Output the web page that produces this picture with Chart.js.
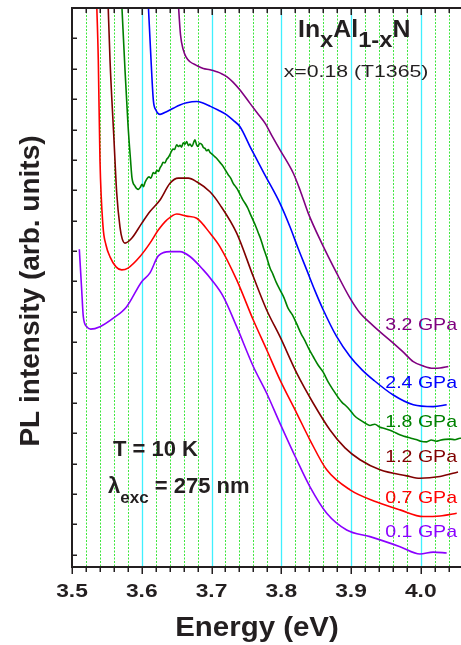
<!DOCTYPE html>
<html>
<head>
<meta charset="utf-8">
<title>InAlN PL spectra</title>
<script src="https://cdn.jsdelivr.net/npm/chart.js@4.4.1/dist/chart.umd.min.js"></script>
<style>
  html, body { margin: 0; padding: 0; background: #fff; }
  canvas { display: block; }
</style>
</head>
<body>
<canvas id="plChart" width="461" height="645"></canvas>
<script>
// pressure labels, low -> high
const pressures = ['0.1 GPa', '0.7 GPa', '1.2 GPa', '1.8 GPa', '2.4 GPa', '3.2 GPa'];

// energy (eV) / intensity (arb., offset)
const e01 = [3.5105,3.5139,3.5162,3.5211,3.5268,3.5401,3.5592,3.5784,3.5999,3.6118,3.6237,3.6405,3.6548,3.6691,3.6882,3.7003,3.7169,3.7361,3.7599,3.7791,3.7982,3.8222,3.8412,3.8652,3.8938,3.9272,3.9703,3.9989,4.0180,4.0372];
const i01 = [10.06,8.72,7.84,7.51,7.43,7.51,7.79,8.17,8.99,9.28,9.84,9.98,9.98,9.82,9.38,9.05,8.50,7.51,6.20,5.32,4.33,3.13,2.24,1.37,0.82,0.60,0.27,0.03,0.09,0.06];

const e07 = [3.5352,3.5377,3.5401,3.5444,3.5487,3.5545,3.5631,3.5713,3.5803,3.5975,3.6118,3.6237,3.6358,3.6501,3.6644,3.6788,3.6978,3.7122,3.7361,3.7599,3.7791,3.7982,3.8222,3.8412,3.8652,3.8986,3.9369,3.9703,4.0037,4.0276,4.0516];
const i07 = [18.3,16.29,13.0,10.83,10.20,9.81,9.48,9.38,9.44,9.82,10.26,10.69,11.02,11.22,11.15,11.08,10.59,10.14,9.05,7.73,6.75,5.76,4.66,3.78,2.80,2.14,1.74,1.48,1.26,1.28,1.37];

const e12 = [3.5515,3.5545,3.5602,3.5641,3.5688,3.5720,3.5760,3.5856,3.5999,3.6118,3.6262,3.6405,3.6524,3.6667,3.6788,3.6978,3.7122,3.7361,3.7599,3.7791,3.7982,3.8222,3.8459,3.8699,3.8914,3.9129,3.9416,3.9799,3.9989,4.0276,4.0534];
const i12 = [18.3,16.29,13.66,11.91,10.79,10.40,10.26,10.42,10.91,11.30,11.68,12.23,12.40,12.40,12.28,11.95,11.52,10.59,9.16,8.06,7.18,5.98,4.99,4.11,3.52,3.13,2.80,2.60,2.52,2.58,2.73];

const e18 = [3.5710,3.5760,3.5803,3.5839,3.5860,3.5903,3.5951,3.5980,3.6004,3.6025,3.6047,3.6075,3.6104,3.6130,3.6166,3.6190,3.6219,3.6240,3.6262,3.6285,3.6305,3.6330,3.6358,3.6380,3.6405,3.6425,3.6448,3.6470,3.6501,3.6525,3.6548,3.6570,3.6595,3.6620,3.6645,3.6669,3.6692,3.6720,3.6745,3.6763,3.6785,3.6806,3.6830,3.6864,3.6885,3.6907,3.6930,3.6955,3.6980,3.7003,3.7040,3.7079,3.7120,3.7169,3.7200,3.7237,3.7275,3.7313,3.7345,3.7380,3.7420,3.7456,3.7490,3.7523,3.7560,3.7599,3.7630,3.7667,3.7705,3.7743,3.7790,3.7839,3.7880,3.7930,3.7982,3.8040,3.8097,3.8160,3.8222,3.8280,3.8341,3.8400,3.8459,3.8530,3.8599,3.8670,3.8746,3.8810,3.8871,3.8930,3.8986,3.9050,3.9129,3.9200,3.9272,3.9340,3.9416,3.9480,3.9559,3.9620,3.9674,3.9740,3.9799,3.9860,3.9932,4.0000,4.0085,4.0150,4.0220,4.0276,4.0350,4.0419,4.0490,4.0563,4.0600];
const i18 = [18.3,15.96,14.15,13.0,12.41,12.14,12.03,12.10,12.20,12.12,12.26,12.38,12.44,12.40,12.58,12.55,12.66,12.62,12.74,12.82,12.92,12.90,13.02,13.08,13.18,13.28,13.36,13.34,13.50,13.44,13.48,13.42,13.56,13.52,13.60,13.47,13.52,13.44,13.58,13.66,13.50,13.44,13.55,13.50,13.40,13.38,13.30,13.34,13.24,13.20,13.12,13.04,12.92,12.78,12.66,12.52,12.40,12.22,12.12,12.00,11.82,11.66,11.54,11.40,11.20,11.00,10.84,10.62,10.40,10.12,9.80,9.44,9.24,8.96,8.72,8.46,8.12,7.90,7.60,7.30,7.04,6.76,6.52,6.24,6.02,5.70,5.42,5.20,5.02,4.90,4.76,4.58,4.44,4.34,4.26,4.30,4.20,4.16,4.10,4.04,3.98,3.92,3.88,3.84,3.80,3.74,3.72,3.78,3.74,3.77,3.80,3.81,3.79,3.84,3.83];

const e24 = [3.6090,3.6133,3.6166,3.6204,3.6262,3.6348,3.6452,3.6548,3.6644,3.6788,3.6878,3.6978,3.7093,3.7218,3.7308,3.7409,3.7552,3.7652,3.7767,3.7982,3.8125,3.8240,3.8365,3.8484,3.8603,3.8795,3.8986,3.9158,3.9320,3.9606,3.9893,4.0180,4.0372];
const i24 = [18.3,16.29,14.97,14.64,14.50,14.58,14.70,14.81,14.88,14.92,14.87,14.77,14.64,14.48,14.31,14.09,13.44,13.0,12.50,11.57,10.80,10.10,9.38,8.69,8.06,7.18,6.53,6.09,5.76,5.26,4.94,4.88,4.94];

const e32 = [3.6520,3.6556,3.6596,3.6634,3.6692,3.6778,3.6882,3.6978,3.7075,3.7151,3.7218,3.7308,3.7409,3.7552,3.7667,3.7767,3.7867,3.7982,3.8173,3.8269,3.8388,3.8580,3.8795,3.8986,3.9129,3.9258,3.9416,3.9606,3.9746,3.9893,4.0032,4.0180,4.0276,4.0395];
const i32 = [18.3,17.11,16.62,16.39,16.23,16.12,16.01,15.97,15.90,15.83,15.74,15.56,15.30,14.86,14.51,14.21,13.79,13.33,12.56,12.01,11.24,10.26,9.27,8.45,7.96,7.67,7.34,6.97,6.68,6.36,6.22,6.14,6.15,6.20];

// axis ticks
const xMajorTicks = [3.5, 3.6, 3.7, 3.8, 3.9, 4.0];
const xTickLabels = ['3.5', '3.6', '3.7', '3.8', '3.9', '4.0'];
const yTicks = [0,1,2,3,4,5,6,7,8,9,10,11,12,13,14,15,16,17];

const lineColors = ['#8a00ff', '#ff0000', '#800000', '#008000', '#0000ff', '#800080'];
const FONT = "'Liberation Sans', Arial, Helvetica, sans-serif";
const INK = '#231f20';

// minor tick every 0.02 eV
const xMinorTicks = [];
for (let k = 0; k <= 27; k++) xMinorTicks.push(+(3.5 + k * 0.02).toFixed(2));

const seriesX = [e01, e07, e12, e18, e24, e32];
const seriesY = [i01, i07, i12, i18, i24, i32];

function isMajor(v) {
    return Math.abs(v * 10 - Math.round(v * 10)) < 1e-6;
}

function drawText(ctx, txt, x, y, font, color, align, sx) {
    ctx.save();
    ctx.font = font;
    ctx.fillStyle = color;
    ctx.textAlign = align;
    ctx.textBaseline = 'alphabetic';
    ctx.translate(x, y);
    ctx.scale(sx, 1);
    ctx.fillText(txt, 0, 0);
    ctx.restore();
}

// draws pieces left to right: [text, font, dy]
function drawRuns(ctx, runs, x, y, color, sx) {
    let cx = x;
    runs.forEach(r => {
        ctx.save();
        ctx.font = r[1];
        const w = ctx.measureText(r[0]).width * sx;
        ctx.restore();
        drawText(ctx, r[0], cx, y + r[2], r[1], color, 'left', sx);
        cx += w;
    });
}

const framePlugin = {
    id: 'frame',
    beforeDatasetsDraw(chart) {
        const { ctx, chartArea: a, scales: { x } } = chart;
        ctx.save();
        xMinorTicks.forEach(v => {
            if (v <= 3.5) return;
            const px = Math.round(x.getPixelForValue(v)) + 0.5;
            ctx.beginPath();
            if (isMajor(v)) {
                ctx.strokeStyle = '#3ff0ff';
                ctx.lineWidth = 1.3;
                ctx.setLineDash([]);
            } else {
                ctx.strokeStyle = '#3ee63e';
                ctx.lineWidth = 1;
                ctx.setLineDash([2, 1.5]);
            }
            ctx.moveTo(px, a.top);
            ctx.lineTo(px, a.bottom);
            ctx.stroke();
        });
        ctx.restore();
    },
    afterDatasetsDraw(chart) {
        const { ctx, chartArea: a, scales: { x, y } } = chart;
        ctx.save();
        ctx.strokeStyle = INK;
        ctx.setLineDash([]);

        // axis lines
        ctx.lineWidth = 2;
        ctx.beginPath();
        ctx.moveTo(a.left, a.top); ctx.lineTo(a.right, a.top);
        ctx.moveTo(a.left, a.top - 1); ctx.lineTo(a.left, a.bottom + 1);
        ctx.moveTo(a.left - 1, a.bottom); ctx.lineTo(a.right, a.bottom);
        ctx.stroke();

        // x ticks: bottom outward, top inward
        ctx.lineWidth = 1.5;
        ctx.beginPath();
        xMinorTicks.forEach(v => {
            const px = Math.round(x.getPixelForValue(v)) + 0.25;
            const len = isMajor(v) ? 7 : 5;
            ctx.moveTo(px, a.bottom); ctx.lineTo(px, a.bottom + len);
            ctx.moveTo(px, a.top); ctx.lineTo(px, a.top + len);
        });
        // y ticks inward
        yTicks.forEach(v => {
            const py = Math.round(y.getPixelForValue(v)) + 0.25;
            ctx.moveTo(a.left, py); ctx.lineTo(a.left + 5, py);
        });
        ctx.stroke();
        ctx.restore();

        // tick labels
        xMajorTicks.forEach((v, i) => {
            drawText(ctx, xTickLabels[i], x.getPixelForValue(v), 597, `bold 19px ${FONT}`, INK, 'center', 1.2);
        });

        // axis titles
        drawText(ctx, 'Energy (eV)', 257, 636, `bold 27px ${FONT}`, INK, 'center', 1.09);
        ctx.save();
        ctx.translate(38.5, 291);
        ctx.rotate(-Math.PI / 2);
        drawText(ctx, 'PL intensity (arb. units)', 0, 0, `bold 28px ${FONT}`, INK, 'center', 1.0);
        ctx.restore();

        // sample label
        const big = `bold 23px ${FONT}`;
        const sub = `bold 22px ${FONT}`;
        drawRuns(ctx, [['In', big, 0], ['x', sub, 10], ['Al', big, 0], ['1-x', sub, 10], ['N', big, 0]], 298, 37, INK, 1.08);
        drawText(ctx, 'x=0.18 (T1365)', 356, 77, `17px ${FONT}`, INK, 'center', 1.25);

        // conditions
        drawText(ctx, 'T = 10 K', 113, 456, `bold 22px ${FONT}`, INK, 'left', 1.0);
        drawRuns(ctx, [['\u03bb', `bold 22px ${FONT}`, 0], ['exc', `bold 17px ${FONT}`, 10], [' = 275 nm', `bold 22px ${FONT}`, 0]], 108, 493, INK, 1.0);

        // pressure labels, right aligned
        const baselines = [537, 503, 462, 427, 388, 330];
        pressures.forEach((p, i) => {
            drawText(ctx, p, 457, baselines[i], `17px ${FONT}`, lineColors[i], 'right', 1.15);
        });
    }
};

new Chart(document.getElementById('plChart'), {
    type: 'line',
    data: {
        datasets: pressures.map((p, i) => ({
            label: p,
            data: seriesX[i].map((e, k) => ({ x: e, y: seriesY[i][k] })),
            borderColor: lineColors[i],
            borderWidth: 1.6,
            pointRadius: 0,
            fill: false,
            cubicInterpolationMode: 'monotone'
        }))
    },
    options: {
        responsive: false,
        animation: false,
        devicePixelRatio: 1,
        layout: { padding: { top: 8, right: 0, left: 0, bottom: 0 } },
        plugins: { legend: { display: false }, tooltip: { enabled: false } },
        scales: {
            x: {
                type: 'linear',
                min: 3.5,
                max: 4.0577,
                grid: { display: false },
                border: { display: false },
                ticks: { display: false },
                afterFit: s => { s.height = 78; }
            },
            y: {
                type: 'linear',
                min: -0.4,
                max: 18,
                grid: { display: false },
                border: { display: false },
                ticks: { display: false },
                afterFit: s => { s.width = 72; }
            }
        }
    },
    plugins: [framePlugin]
});
</script>
</body>
</html>
